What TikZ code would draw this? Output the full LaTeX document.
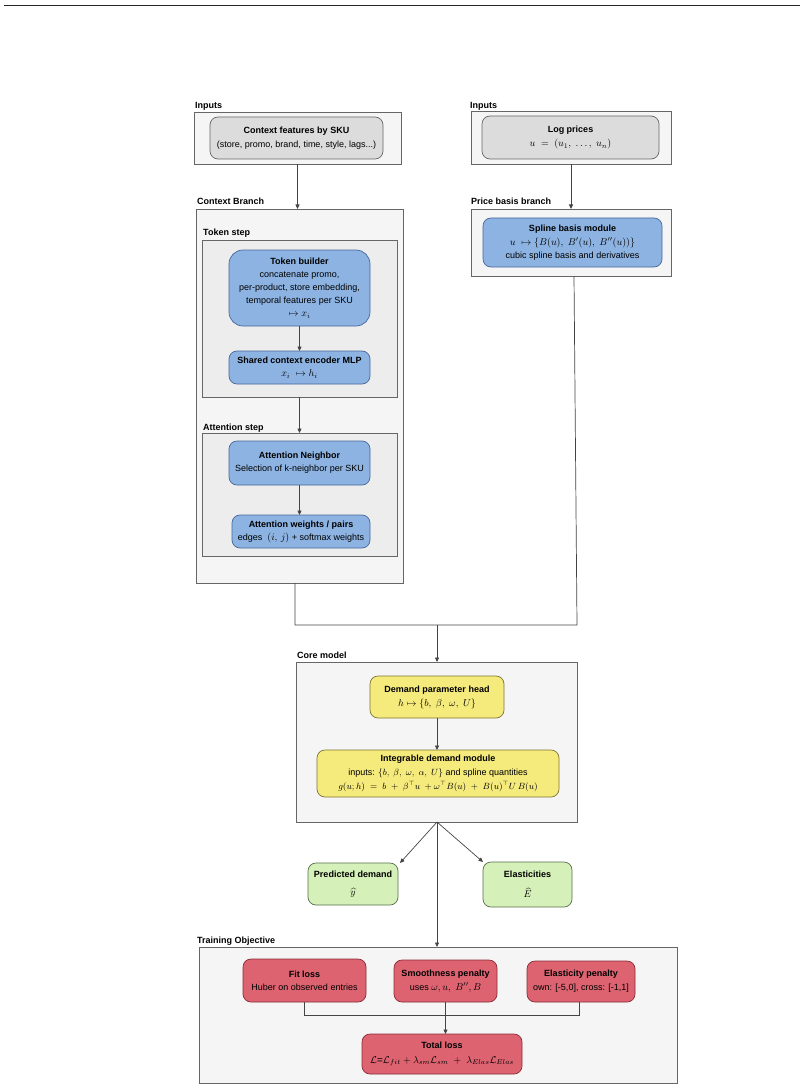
\documentclass[tikz,border=0pt]{standalone}
\usepackage{fontspec}
\setmainfont{Liberation Sans}
\usetikzlibrary{arrows.meta}
\definecolor{grpfill}{HTML}{F5F5F5}
\definecolor{grpdraw}{HTML}{666666}
\definecolor{stepfill}{HTML}{EDEDED}
\definecolor{grayfill}{HTML}{DCDCDC}
\definecolor{bluefill}{HTML}{8DB3E2}
\definecolor{bluedraw}{HTML}{46689A}
\definecolor{yelfill}{HTML}{F5EA7C}
\definecolor{yeldraw}{HTML}{7D7434}
\definecolor{grnfill}{HTML}{D5F0B8}
\definecolor{grndraw}{HTML}{56704A}
\definecolor{redfill}{HTML}{DD6371}
\definecolor{reddraw}{HTML}{8A2B37}
\definecolor{linecol}{HTML}{444444}
\newcommand\bx[7]{\node[#2, minimum width={(#5-#3)*1pt}, minimum height={(#6-#4)*1pt}] (#1) at ({(#3+#5)/2},{(#4+#6)/2}) {#7};}
\newcommand\mbig[1]{{\fontsize{10}{13}\selectfont$#1$}}
\begin{document}
\begin{tikzpicture}[x=1pt,y=-1pt,
  base/.style={align=center, outer sep=0pt, inner sep=1pt, line width=0.7pt, font=\fontsize{9}{13}\selectfont},
  grp/.style={base, draw=grpdraw, fill=grpfill},
  stepgrp/.style={base, draw=grpdraw, fill=stepfill},
  graynode/.style={base, rounded corners=8pt, draw=grpdraw, fill=grayfill},
  bluenode/.style={base, rounded corners=8pt, draw=bluedraw, fill=bluefill},
  yelnode/.style={base, rounded corners=8pt, draw=yeldraw, fill=yelfill},
  grnnode/.style={base, rounded corners=8pt, draw=grndraw, fill=grnfill},
  rednode/.style={base, rounded corners=8pt, draw=reddraw, fill=redfill},
  lbl/.style={anchor=base west, inner sep=0pt, font=\fontsize{9}{10}\selectfont\bfseries},
  conn/.style={draw=linecol, line width=0.7pt},
  arr/.style={conn, -{Triangle[length=4.5pt,width=4pt]}}
]
\useasboundingbox[fill=white] (0,0) rectangle (805,1091);
\coordinate (rl) at (4,6);
\coordinate (rr) at (800,6);
\draw[line width=1pt, draw=black!85] (rl) -- (rr);

% Inputs (left)
\node[lbl] (lblinl) at (195,109) {Inputs};
\bx{inl}{grp}{194}{112}{401}{164}{}
\bx{ctxf}{graynode}{210}{117}{383}{159}{\textbf{Context features by SKU}\\[1pt](store, promo, brand, time, style, lags...)}

% Inputs (right)
\node[lbl] (lblinr) at (470,109) {Inputs};
\bx{inr}{grp}{471}{111}{671}{164}{}
\bx{logp}{graynode}{482}{116}{659}{159}{\textbf{Log prices}\\[1pt]\mbig{u\;=\;(u_1,\;\ldots,\;u_n)}}

% Context branch
\node[lbl] (lblctx) at (197,205) {Context Branch};
\bx{ctxbr}{grp}{196}{209}{403}{583}{}
\node[lbl] (lbltok) at (203,236) {Token step};
\bx{tokstep}{stepgrp}{202}{240}{397}{397}{}
\bx{tokb}{bluenode, rounded corners=14pt}{229}{250}{370}{326}{\textbf{Token builder}\\concatenate promo,\\per-product, store embedding,\\temporal features per SKU\\\mbig{\mapsto x_i}}
\bx{enc}{bluenode}{229}{351}{370}{384}{\textbf{Shared context encoder MLP}\\\mbig{x_i\;\mapsto h_i}}
\node[lbl] (lblatt) at (203,430) {Attention step};
\bx{attstep}{stepgrp}{202}{433}{397}{556}{}
\bx{attn}{bluenode}{229}{441}{370}{485}{\textbf{Attention Neighbor}\\Selection of k-neighbor per SKU}
\bx{attw}{bluenode}{232}{515}{370}{548}{\textbf{Attention weights / pairs}\\edges\ \ \mbig{(i,\,j)} + softmax weights}

% Price basis branch
\node[lbl] (lblprice) at (471,205) {Price basis branch};
\bx{pricebr}{grp}{471}{209}{671}{276}{}
\bx{spline}{bluenode}{483}{218}{662}{267}{\textbf{Spline basis module}\\[1pt]\mbig{u\;\mapsto\{B(u),\;B'(u),\;B''(u))\}}\\cubic spline basis and derivatives}

% Core model
\node[lbl] (lblcore) at (297,658) {Core model};
\bx{core}{grp}{296}{662}{577}{822}{}
\bx{dph}{yelnode}{370}{676}{504}{718}{\textbf{Demand parameter head}\\[1pt]\mbig{h\mapsto\{b,\;\beta,\;\omega,\;U\}}}
\bx{idm}{yelnode}{317}{750}{559}{797}{\textbf{Integrable demand module}\\[1pt]inputs: $\{b,\;\beta,\;\omega,\;\alpha,\;U\}$ and spline quantities\\[1pt]$g(u;h)\;=\;b\;+\;\beta^{\top}u\;+\omega^{\top}B(u)\;+\;B(u)^{\top}U\,B(u)$}

% Outputs
\bx{pred}{grnnode}{308}{863}{398}{905}{\textbf{Predicted demand}\\[5pt]\mbig{\widehat{y}}}
\bx{elas}{grnnode}{483}{862}{572}{907}{\textbf{Elasticities}\\[7pt]\mbig{\widehat{E}}}

% Training objective
\node[lbl] (lbltrain) at (197,943) {Training Objective};
\bx{train}{grp}{199}{947}{677}{1083}{}
\bx{fit}{rednode}{243}{959}{366}{1002}{\textbf{Fit loss}\\Huber on observed entries}
\bx{smooth}{rednode}{394}{960}{497}{1002}{\textbf{Smoothness penalty}\\[1pt]uses \mbig{\omega, u,\;B'', B}}
\bx{elpen}{rednode}{527}{961}{635}{1002}{\textbf{Elasticity penalty}\\[1pt]own: [-5,0], cross: [-1,1]}
\bx{total}{rednode}{362}{1034}{522}{1074}{\textbf{Total loss}\\[2pt]\mbig{\mathcal{L}\mbox{=}\mathcal{L}_{fit}+\lambda_{sm}\mathcal{L}_{sm}\;+\;\lambda_{Elas}\mathcal{L}_{Elas}}}

% Connectors
\coordinate (cx) at (437,0);
\draw[arr] (inl.south) -- (inl.south |- ctxbr.north);
\draw[arr] (inr.south) -- (inr.south |- pricebr.north);
\draw[arr] (tokb.south) -- (enc.north);
\draw[arr] (tokstep.south) -- (attstep.north);
\draw[arr] (attn.south) -- (attn.south |- attw.north);
\coordinate (jl) at (295,625);
\coordinate (jr) at (577,625);
\draw[conn] (ctxbr.south -| jl) -- (jl) -- (jr) -- (pricebr.south -| 574,0);
\draw[arr] (cx |- jl) -- (cx |- core.north);
\draw[arr] (dph.south) -- (dph.south |- idm.north);
\draw[arr] (cx |- core.south) -- (400,863);
\draw[arr] (cx |- core.south) -- (elas.north west);
\draw[arr] (cx |- core.south) -- (cx |- train.north);
\coordinate (tl) at (304,1015);
\coordinate (tr) at (579,1015);
\draw[conn] (fit.south -| tl) -- (tl) -- (tr) -- (elpen.south -| tr);
\draw[arr] (smooth.south) -- (smooth.south |- total.north);
\end{tikzpicture}
\end{document}
